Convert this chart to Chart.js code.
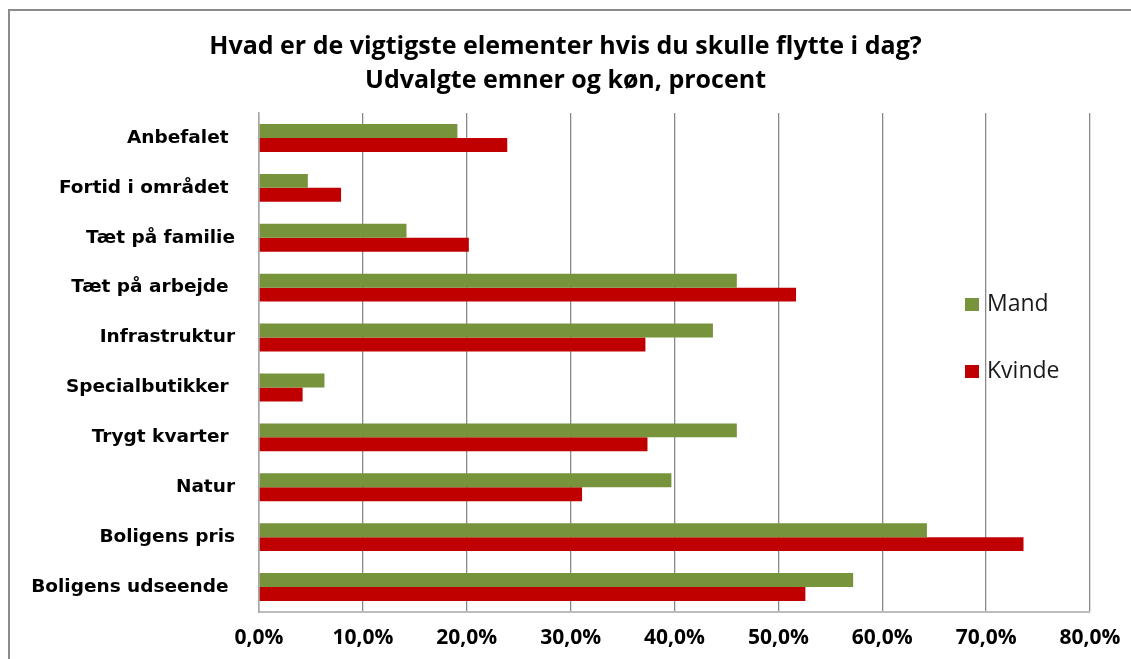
<!DOCTYPE html>
<html>
<head>
<meta charset="utf-8">
<script src="https://cdn.jsdelivr.net/npm/chart.js@4"></script>
<style>
html,body{margin:0;padding:0;background:#fff;}
canvas{display:block;}
</style>
</head>
<body>
<canvas id="c" width="1131" height="659"></canvas>
<script>
const categories = ["Anbefalet ", "Fortid i området ", "Tæt på familie", "Tæt på arbejde ", "Infrastruktur", "Specialbutikker ", "Trygt kvarter ", "Natur", "Boligens pris", "Boligens udseende "];
const mandValues = [19.1, 4.7, 14.2, 46.0, 43.7, 6.3, 46.0, 39.7, 64.3, 57.2];
const kvindeValues = [23.9, 7.9, 20.2, 51.7, 37.2, 4.2, 37.4, 31.1, 73.6, 52.6];
const titleLines = ["Hvad er de vigtigste elementer hvis du skulle flytte i dag?", "Udvalgte emner og køn, procent"];
const xTickMin = 0, xTickMax = 80, xTickStep = 10;

const framePlugin = {
  id: 'frame',
  beforeDraw(chart) {
    const ctx = chart.ctx;
    ctx.save();
    ctx.fillStyle = '#fff';
    ctx.fillRect(0, 0, chart.width, chart.height);
    ctx.strokeStyle = '#8c8c8c';
    ctx.lineWidth = 2;
    ctx.beginPath();
    ctx.moveTo(9, chart.height + 2);
    ctx.lineTo(9, 10);
    ctx.lineTo(chart.width + 2, 10);
    ctx.stroke();
    ctx.restore();
  }
};

const legendPlugin = {
  id: 'customLegend',
  afterDraw(chart) {
    const ctx = chart.ctx;
    const a = chart.chartArea;
    ctx.save();
    ctx.font = '23px "Open Sans"';
    ctx.textBaseline = 'middle';
    ctx.textAlign = 'left';
    chart.data.datasets.forEach((ds, i) => {
      const x = a.left + 706;
      const y = a.top + 185 + i * 67;
      ctx.fillStyle = ds.backgroundColor;
      ctx.fillRect(x, y, 14, 13);
      ctx.fillStyle = '#1a1a1a';
      ctx.fillText(ds.label, x + 22, y + 6);
    });
    ctx.restore();
  }
};

new Chart(document.getElementById('c'), {
  type: 'bar',
  data: {
    labels: categories,
    datasets: [
      { label: 'Mand', data: mandValues, backgroundColor: '#77933C' },
      { label: 'Kvinde', data: kvindeValues, backgroundColor: '#C00000' }
    ]
  },
  options: {
    indexAxis: 'y',
    responsive: false,
    animation: false,
    devicePixelRatio: 1,
    categoryPercentage: 0.56,
    barPercentage: 1.0,
    layout: { padding: 0 },
    plugins: {
      legend: { display: false },
      tooltip: { enabled: false },
      title: {
        display: true,
        text: titleLines,
        color: '#000',
        font: { family: '"Open Sans"', size: 25, weight: 'bold', lineHeight: 1.36 },
        padding: { top: 30, bottom: 15 }
      }
    },
    scales: {
      x: {
        min: xTickMin,
        max: xTickMax,
        afterFit(scale) { scale.height = 47; scale.paddingRight = 41; scale.paddingLeft = 0; },
        ticks: {
          stepSize: xTickStep,
          padding: 13,
          color: '#000',
          font: { family: '"Open Sans"', size: 21, weight: 'bold' },
          callback: (v) => v.toFixed(1).replace('.', ',') + '%'
        },
        grid: { color: '#8a8a8a', lineWidth: 1.3, drawTicks: false },
        border: { display: true, color: '#bdbdbd', width: 2 }
      },
      y: {
        afterFit(scale) { scale.width = 259; },
        ticks: {
          padding: 24,
          color: '#000',
          font: { family: '"DejaVu Sans"', size: 18.5, weight: 'bold' }
        },
        grid: { display: false, drawTicks: false },
        border: { display: true, color: '#a6a6a6', width: 1.5 }
      }
    }
  },
  plugins: [framePlugin, legendPlugin]
});
</script>
</body>
</html>
